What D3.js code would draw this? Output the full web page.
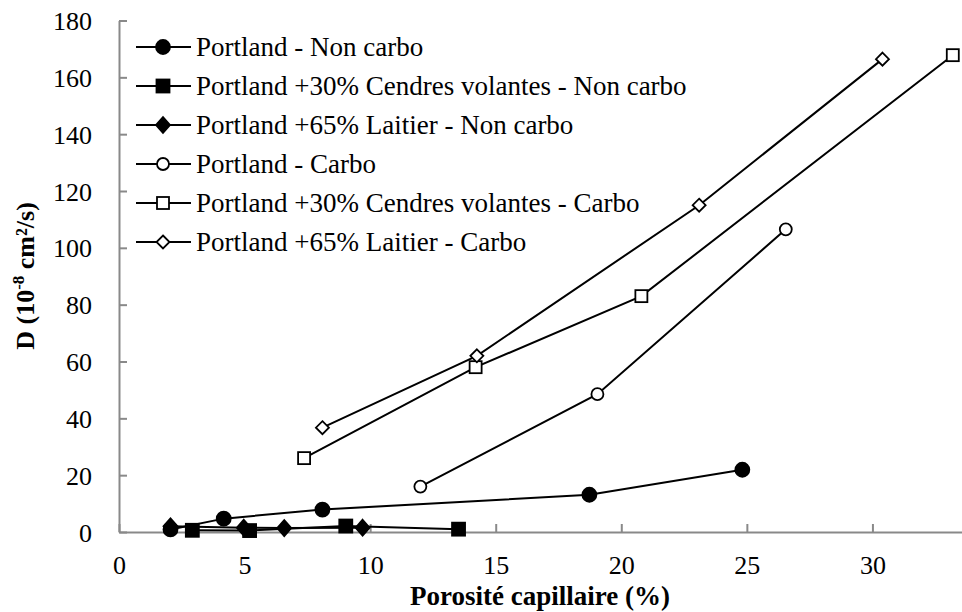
<!DOCTYPE html>
<html>
<head>
<meta charset="utf-8">
<script src="https://cdn.jsdelivr.net/npm/d3@7"></script>
<style>
  body { margin: 0; background: #fff; }
  svg { display: block; font-family: "Liberation Serif", "Times New Roman", serif; }
</style>
</head>
<body>
<div id="chart"></div>
<script>
// valeurs (porosité %, D en 1e-8 cm²/s)
var portlandNC = [[2.05, 0.9], [4.17, 4.7], [8.1, 7.9], [18.73, 13.1], [24.82, 21.9]];
var cendresNC = [[2.92, 0.6], [5.2, 0.5], [9.03, 2.1], [13.52, 1.0]];
var laitierNC = [[2.05, 2.0], [4.97, 1.5], [6.58, 1.4], [9.7, 1.5]];
var portlandC = [[12.0, 16.0], [19.05, 48.5], [26.55, 106.5]];
var cendresC = [[7.37, 26.0], [14.2, 58.0], [20.8, 83.0], [33.2, 167.8]];
var laitierC = [[8.1, 36.7], [14.25, 62.0], [23.1, 115.0], [30.4, 166.4]];

var seriesNames = [
   "Portland - Non carbo",
   "Portland +30% Cendres volantes - Non carbo",
   "Portland +65% Laitier - Non carbo",
   "Portland - Carbo",
   "Portland +30% Cendres volantes - Carbo",
   "Portland +65% Laitier - Carbo"
];
var seriesData = [portlandNC, cendresNC, laitierNC, portlandC, cendresC, laitierC];
var markerShapes = ["circle", "square", "diamond", "circle", "square", "diamond"];
var markerFilled = [true, true, true, false, false, false];

var xTicks = [0, 5, 10, 15, 20, 25, 30];
var yTicks = [0, 20, 40, 60, 80, 100, 120, 140, 160, 180];

var width = 962, height = 612;
var axisColor = "#898989";
var fontFam = '"Liberation Serif", "Times New Roman", serif';

var svg = d3.select('#chart').append('svg')
   .attr('width', width)
   .attr('height', height);

var xScale = d3.scaleLinear().domain([0, 35]).range([119, 998]);
var yScale = d3.scaleLinear().domain([0, 180]).range([532, 20.5]);

// dessin d'un marqueur
function drawMarker(g, shape, filled, cx, cy) {
   var fill = filled ? '#000' : '#fff';
   if (shape === 'circle') {
      g.append('circle')
         .attr('cx', cx).attr('cy', cy)
         .attr('r', filled ? 7 : 6)
         .attr('fill', fill).attr('stroke', '#000').attr('stroke-width', 1.8);
   } else if (shape === 'square') {
      var s = filled ? 13 : 12;
      g.append('rect')
         .attr('x', cx - s / 2).attr('y', cy - s / 2)
         .attr('width', s).attr('height', s)
         .attr('fill', fill).attr('stroke', '#000').attr('stroke-width', 1.8);
   } else {
      var w = filled ? 7 : 6.5, h = filled ? 8 : 6.5;
      g.append('path')
         .attr('d', 'M' + cx + ',' + (cy - h) + 'L' + (cx + w) + ',' + cy + 'L' + cx + ',' + (cy + h) + 'L' + (cx - w) + ',' + cy + 'Z')
         .attr('fill', fill).attr('stroke', '#000').attr('stroke-width', 1.8);
   }
}

// axes
var xAxis = svg.append('g')
   .attr('transform', 'translate(0,' + yScale(0) + ')')
   .call(d3.axisBottom(xScale).tickValues(xTicks).tickSizeInner(-8).tickSizeOuter(0).tickPadding(24));
var yAxis = svg.append('g')
   .attr('transform', 'translate(' + xScale(0) + ',0)')
   .call(d3.axisLeft(yScale).tickValues(yTicks).tickSizeInner(-8).tickSizeOuter(0).tickPadding(27));

[xAxis, yAxis].forEach(function (ax) {
   ax.attr('font-family', fontFam).attr('font-size', 26);
   ax.select('.domain').attr('stroke', axisColor).attr('stroke-width', 2);
   ax.selectAll('.tick line').attr('stroke', axisColor).attr('stroke-width', 2);
   ax.selectAll('.tick text').attr('fill', '#000');
});
yAxis.selectAll('.tick text').attr('dy', '0.35em');

// séries
var line = d3.line()
   .x(function (d) { return xScale(d[0]); })
   .y(function (d) { return yScale(d[1]); });

var plot = svg.append('g');
seriesData.forEach(function (data, i) {
   plot.append('path')
      .datum(data)
      .attr('d', line)
      .attr('fill', 'none')
      .attr('stroke', '#000')
      .attr('stroke-width', 2);
});
seriesData.forEach(function (data, i) {
   data.forEach(function (d) {
      drawMarker(plot, markerShapes[i], markerFilled[i], xScale(d[0]), yScale(d[1]));
   });
});

// légende
var legend = svg.append('g');
seriesNames.forEach(function (name, i) {
   var ly = 47 + i * 39;
   legend.append('line')
      .attr('x1', 136).attr('x2', 191)
      .attr('y1', ly).attr('y2', ly)
      .attr('stroke', '#000').attr('stroke-width', 2);
   drawMarker(legend, markerShapes[i], markerFilled[i], 163, ly);
   legend.append('text')
      .attr('x', 196).attr('y', ly)
      .attr('dy', '0.35em')
      .style('font-size', '27px')
      .text(name);
});

// titres des axes
svg.append('text')
   .attr('x', 540).attr('y', 605)
   .attr('text-anchor', 'middle')
   .style('font-size', '27px')
   .style('font-weight', 'bold')
   .text('Porosité capillaire (%)');

var yTitle = svg.append('text')
   .attr('transform', 'translate(34,276) rotate(-90)')
   .attr('text-anchor', 'middle')
   .style('font-size', '26px')
   .style('font-weight', 'bold');
yTitle.append('tspan').text('D (10');
yTitle.append('tspan').attr('dy', -10).style('font-size', '17px').text('-8');
yTitle.append('tspan').attr('dy', 10).text(' cm²/s)');
</script>
</body>
</html>
